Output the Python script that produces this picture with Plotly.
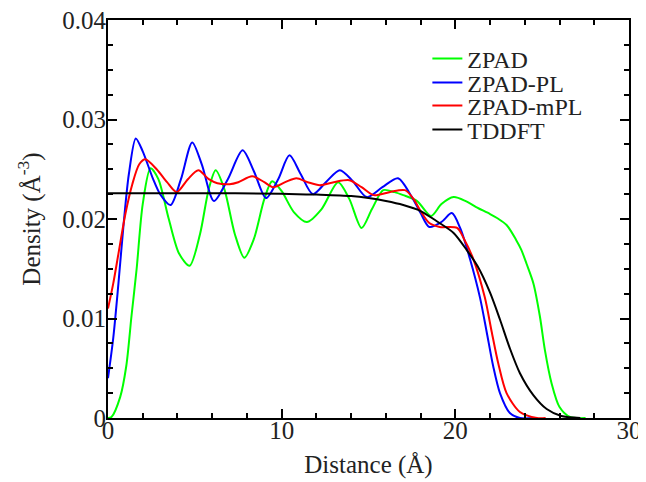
import plotly.graph_objects as go

# ---- data ----
zpad_x = [0.0, 0.2, 0.7, 1.05, 1.35, 1.65, 2.0, 2.45, 2.9, 3.5, 4.1, 4.7, 5.3, 5.8, 6.2, 6.7, 7.3, 7.85,
          8.4, 9.0, 9.45, 10.0, 10.7, 11.45, 12.3, 13.25, 13.9, 14.6, 15.2, 15.85, 16.5, 17.0, 17.8, 18.6,
          19.2, 19.9, 20.6, 21.2, 22.0, 22.4, 22.95, 23.5, 23.8, 24.1, 24.5, 24.87, 25.16, 25.54, 26.0,
          26.6, 27.5]
zpad_y = [0.0, 0.0001, 0.0021, 0.0052, 0.0102, 0.0150, 0.0215, 0.0251, 0.0240, 0.0200, 0.0165, 0.0153,
          0.0185, 0.0230, 0.0249, 0.0230, 0.0185, 0.0161, 0.0180, 0.0220, 0.0238, 0.0228, 0.0207, 0.0197,
          0.0210, 0.0237, 0.0220, 0.0191, 0.0210, 0.0229, 0.0227, 0.0224, 0.0218, 0.0203, 0.0215, 0.0222,
          0.0218, 0.0212, 0.0205, 0.0201, 0.0194, 0.0179, 0.0169, 0.0155, 0.0135, 0.0102, 0.0068, 0.0035,
          0.0011, 0.0001, 0.0]

pl_x = [0.0, 0.3, 0.6, 0.9, 1.2, 1.6, 2.0, 2.6, 3.0, 3.6, 4.2, 4.85, 5.4, 6.1, 6.9, 7.75, 8.4, 9.1, 9.8,
        10.45, 11.1, 11.8, 12.6, 13.35, 14.1, 14.9, 15.8, 16.7, 17.5, 18.0, 18.5, 19.2, 19.8, 20.3, 20.84,
        21.42, 21.8, 22.18, 22.57, 23.14, 23.72, 24.5]
pl_y = [0.0040, 0.0080, 0.0135, 0.0195, 0.0245, 0.0281, 0.0268, 0.0240, 0.0225, 0.0214, 0.0240, 0.0277,
        0.0255, 0.0218, 0.0240, 0.0269, 0.0248, 0.0221, 0.0240, 0.0264, 0.0245, 0.0225, 0.0238, 0.0249,
        0.0238, 0.0222, 0.0232, 0.0241, 0.0222, 0.0206, 0.0192, 0.0197, 0.0206, 0.0190, 0.0160, 0.0121,
        0.0087, 0.0052, 0.0025, 0.0005, 0.0, 0.0]

mpl_x = [0.0, 0.3, 0.6, 1.0, 1.4, 1.8, 2.15, 2.8, 3.4, 3.95, 4.6, 5.2, 5.8, 6.3, 7.0, 7.5, 8.3, 9.0, 9.5,
         10.2, 10.85, 11.5, 12.2, 13.0, 13.9, 14.6, 15.3, 16.2, 17.1, 17.6, 18.0, 18.5, 19.1, 20.1, 20.5,
         21.03, 21.7, 22.09, 22.47, 22.95, 23.72, 24.7, 25.2]
mpl_y = [0.0110, 0.0135, 0.0165, 0.0205, 0.0235, 0.0255, 0.0260, 0.0250, 0.0237, 0.0227, 0.0240, 0.0249,
         0.0240, 0.0236, 0.0235, 0.0237, 0.0243, 0.0237, 0.0232, 0.0237, 0.0241, 0.0237, 0.0234, 0.0237,
         0.0239, 0.0232, 0.0224, 0.0227, 0.0229, 0.0220, 0.0208, 0.0196, 0.0192, 0.0191, 0.0180, 0.0160,
         0.0121, 0.0087, 0.0055, 0.0025, 0.0006, 0.0, 0.0]

tddft_x = [0.0, 5.0, 10.0, 12.0, 14.0, 15.0, 16.0, 17.0, 18.0, 19.0, 19.9, 20.65, 21.3, 22.0, 22.57,
           23.14, 23.72, 24.49, 25.26, 26.1, 27.2]
tddft_y = [0.0226, 0.0226, 0.02255, 0.02245, 0.0223, 0.0221, 0.0218, 0.0214, 0.0208, 0.0197, 0.0186,
           0.0169, 0.0152, 0.0126, 0.0099, 0.0070, 0.0045, 0.0023, 0.0009, 0.0002, 0.0]

series_names = ["ZPAD", "ZPAD-PL", "ZPAD-mPL", "TDDFT"]
series_colors = ["#00ff00", "#0000ff", "#ff0000", "#000000"]
x_ticks = [0, 10, 20, 30]
y_ticks = [0, 0.01, 0.02, 0.03, 0.04]
y_tick_text = ["0", "0.01", "0.02", "0.03", "0.04"]

FONT = "Liberation Serif, Times New Roman, Times, serif"
TXT = "#222222"

fig = go.Figure()
series = [(zpad_x, zpad_y), (pl_x, pl_y), (mpl_x, mpl_y), (tddft_x, tddft_y)]
legend_ids = ["legend", "legend2", "legend3", "legend4"]
for (xs, ys), name, col, lg in zip(series, series_names, series_colors, legend_ids):
    fig.add_trace(go.Scatter(x=xs, y=ys, mode="lines", name=name, legend=lg,
                             line=dict(color=col, width=2, shape="spline", smoothing=0.8)))

leg_y = [0.902, 0.842, 0.784, 0.724]
leg_common = dict(x=0.613, xanchor="left", yanchor="middle", bgcolor="rgba(0,0,0,0)",
                  borderwidth=0, font=dict(family=FONT, size=24, color=TXT),
                  itemwidth=30, tracegroupgap=0)
layout_legends = {}
for lg, yy in zip(legend_ids, leg_y):
    layout_legends[lg] = dict(y=yy, **leg_common)

axis_common = dict(showline=True, linecolor="black", linewidth=2, mirror="allticks",
                   ticks="inside", tickcolor="black", tickwidth=2, ticklen=9,
                   showgrid=False, zeroline=False, automargin=False,
                   ticklabeloverflow="allow",
                   tickfont=dict(family=FONT, size=25, color=TXT))

# the page places the figure 8 px from the top-left corner, so the figure is 8 px smaller
fig.update_layout(
    width=638, height=474,
    margin=dict(l=100, r=17, t=12, b=64),
    paper_bgcolor="white", plot_bgcolor="white",
    showlegend=True,
    **layout_legends,
    xaxis=dict(range=[0, 30], tickvals=x_ticks, ticktext=[str(v) for v in x_ticks],
               ticklabelstandoff=-11,
               minor=dict(dtick=2, ticks="inside", ticklen=5, tickcolor="black", tickwidth=2),
               title=dict(text="Distance (Å)", font=dict(family=FONT, size=25, color=TXT), standoff=12),
               **axis_common),
    yaxis=dict(range=[0, 0.04], tickvals=y_ticks, ticktext=y_tick_text,
               ticklabelstandoff=-5,
               minor=dict(dtick=0.0025, ticks="inside", ticklen=5, tickcolor="black", tickwidth=2),
               title=dict(text="Density (Å<sup>-3</sup>)", font=dict(family=FONT, size=25, color=TXT),
                          standoff=15),
               **axis_common),
)

fig.write_html("out.html")
